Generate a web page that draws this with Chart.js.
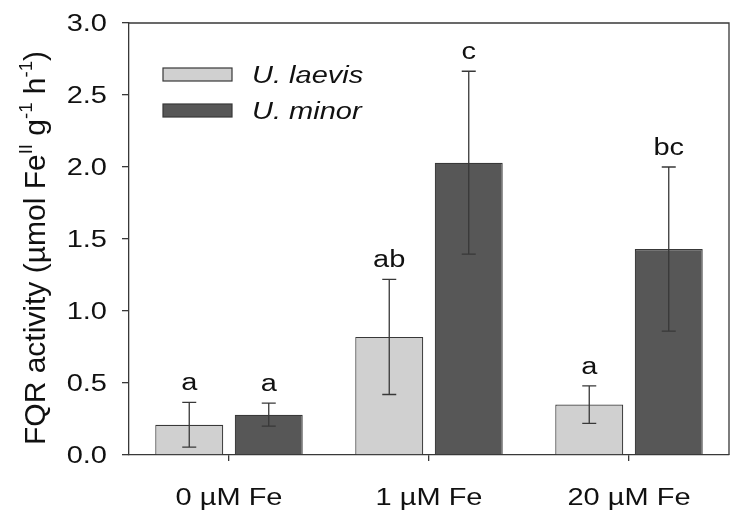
<!DOCTYPE html>
<html>
<head>
<meta charset="utf-8">
<script src="https://cdn.jsdelivr.net/npm/chart.js@4.4.1/dist/chart.umd.min.js"></script>
<style>
  html, body { margin: 0; padding: 0; background: #fff; }
  #wrap { width: 743px; height: 520px; position: relative; }
</style>
</head>
<body>
<div id="wrap"><canvas id="chart"></canvas></div>
<script>
// data
var categories = ['0 µM Fe', '1 µM Fe', '20 µM Fe'];
var seriesNames = ['U. laevis', 'U. minor'];
var laevisMean = [0.21, 0.82, 0.35];
var laevisErr = [0.155, 0.40, 0.13];
var minorMean = [0.28, 2.03, 1.43];
var minorErr = [0.08, 0.635, 0.57];
var laevisLetters = ['a', 'ab', 'a'];
var minorLetters = ['a', 'c', 'bc'];
var yTickValues = [0, 0.5, 1.0, 1.5, 2.0, 2.5, 3.0];

var LIGHT = '#d0d0d0';
var DARK = '#575757';
var LINE = '#383838';
var FONT = '"Liberation Sans", Arial, sans-serif';
var SY = 0.81; // the figure text is squashed vertically

// draws text with the horizontal stretch seen in the picture
function txt(ctx, s, x, y, size, align, italic) {
    ctx.save();
    ctx.translate(x, y);
    ctx.scale(1, SY);
    ctx.font = (italic ? 'italic ' : '') + size + 'px ' + FONT;
    ctx.fillStyle = '#111';
    ctx.textAlign = align;
    ctx.textBaseline = 'alphabetic';
    ctx.fillText(s, 0, 0);
    ctx.restore();
}

var extras = {
    id: 'extras',
    afterDatasetsDraw: function (chart) {
        var ctx = chart.ctx;
        var y = chart.scales.y;
        var sets = [[laevisMean, laevisErr, laevisLetters], [minorMean, minorErr, minorLetters]];
        ctx.save();
        ctx.strokeStyle = LINE;
        ctx.lineWidth = 1.3;
        sets.forEach(function (s, di) {
            var meta = chart.getDatasetMeta(di);
            meta.data.forEach(function (bar, i) {
                var top = y.getPixelForValue(s[0][i] + s[1][i]);
                var bot = y.getPixelForValue(s[0][i] - s[1][i]);
                ctx.beginPath();
                ctx.moveTo(bar.x, top); ctx.lineTo(bar.x, bot);
                ctx.moveTo(bar.x - 7, top); ctx.lineTo(bar.x + 7, top);
                ctx.moveTo(bar.x - 7, bot); ctx.lineTo(bar.x + 7, bot);
                ctx.stroke();
                txt(ctx, s[2][i], bar.x, top - 12, 29, 'center');
            });
        });
        ctx.restore();
    },
    afterDraw: function (chart) {
        var ctx = chart.ctx;
        var a = chart.chartArea;
        var x = chart.scales.x, y = chart.scales.y;
        ctx.save();
        // frame top and right
        ctx.strokeStyle = LINE;
        ctx.lineWidth = 1.3;
        ctx.beginPath();
        ctx.moveTo(a.left, a.top); ctx.lineTo(a.right, a.top); ctx.lineTo(a.right, a.bottom);
        ctx.stroke();

        var cap = 29 * 0.716 * SY;
        yTickValues.forEach(function (v) {
            txt(ctx, v.toFixed(1), a.left - 22, y.getPixelForValue(v) + cap / 2, 29, 'right');
        });
        categories.forEach(function (c, i) {
            txt(ctx, c, x.getPixelForValue(i), a.bottom + 50, 29, 'center');
        });

        // legend
        var cols = [LIGHT, DARK];
        seriesNames.forEach(function (n, i) {
            var by = 68 + i * 36;
            ctx.fillStyle = cols[i];
            ctx.fillRect(163, by, 69, 13);
            ctx.strokeStyle = LINE;
            ctx.lineWidth = 1.2;
            ctx.strokeRect(163, by, 69, 13);
            txt(ctx, n, 252, by + 6.5 + cap / 2, 29, 'left', true);
        });

        // y axis title with superscripts
        var parts = [['FQR activity (µmol Fe', 0], ['II', 1], [' g', 0], ['-1', 1], [' h', 0], ['-1', 1], [')', 0]];
        var size = 30;
        ctx.translate(45, 445);
        ctx.rotate(-Math.PI / 2);
        ctx.fillStyle = '#111';
        ctx.textAlign = 'left';
        ctx.textBaseline = 'alphabetic';
        var px = 0;
        parts.forEach(function (p) {
            var s = p[1] ? size * 0.62 : size;
            ctx.font = s + 'px ' + FONT;
            ctx.fillText(p[0], px, p[1] ? -size * 0.42 : 0);
            px += ctx.measureText(p[0]).width;
        });
        ctx.restore();
    }
};

new Chart(document.getElementById('chart'), {
    type: 'bar',
    data: {
        labels: categories,
        datasets: [
            { label: seriesNames[0], data: laevisMean, backgroundColor: LIGHT, borderColor: LINE, borderWidth: 1.2 },
            { label: seriesNames[1], data: minorMean, backgroundColor: DARK, borderColor: LINE, borderWidth: 1.2 }
        ]
    },
    options: {
        responsive: true,
        maintainAspectRatio: false,
        animation: false,
        devicePixelRatio: 1,
        layout: { padding: { left: 0, right: 14, top: 23, bottom: 0 } },
        datasets: { bar: { categoryPercentage: 0.795, barPercentage: 0.855 } },
        plugins: { legend: { display: false }, tooltip: { enabled: false } },
        scales: {
            x: {
                grid: { offset: false, drawOnChartArea: false, color: LINE, lineWidth: 1.3, tickLength: 6 },
                border: { color: LINE, width: 1.3 },
                ticks: { display: false },
                afterFit: function (s) { s.height = 65; }
            },
            y: {
                min: 0, max: 3,
                ticks: { display: false, stepSize: 0.5 },
                grid: { drawOnChartArea: false, color: LINE, lineWidth: 1.3, tickLength: 7 },
                border: { color: LINE, width: 1.3 },
                afterFit: function (s) { s.width = 129; }
            }
        }
    },
    plugins: [extras]
});
</script>
</body>
</html>
